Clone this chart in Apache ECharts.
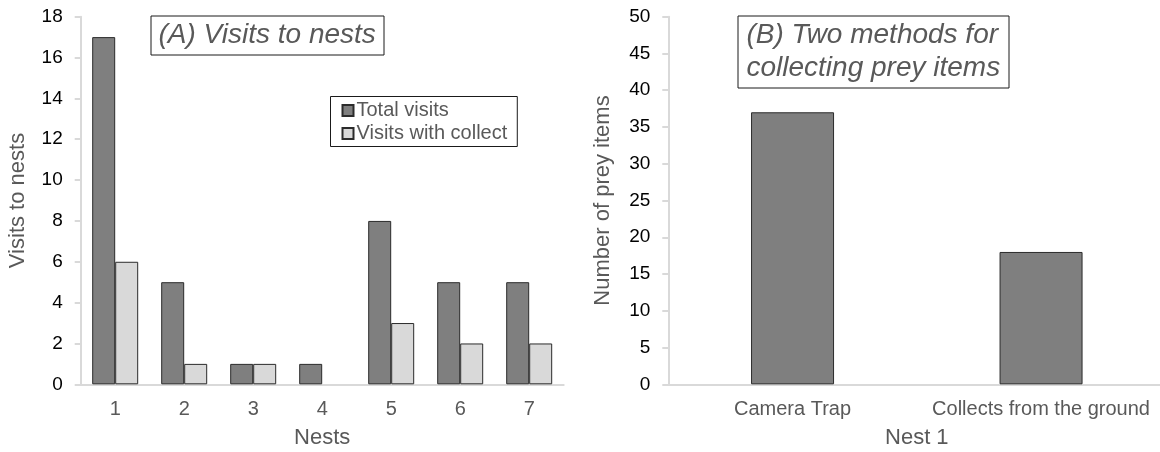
<!DOCTYPE html>
<html>
<head>
<meta charset="utf-8">
<title>Nest visits and prey collection</title>
<script src="https://cdn.jsdelivr.net/npm/echarts@6/dist/echarts.min.js"></script>
<style>
  html, body { margin: 0; padding: 0; background: #ffffff; }
  #chart { width: 1160px; height: 452px; }
</style>
</head>
<body>
<div id="chart"></div>
<script>
// Panel A: visits to each nest
const nests = ['1', '2', '3', '4', '5', '6', '7'];
const totalVisits = [17, 5, 1, 1, 8, 5, 5];
const visitsWithCollect = [6, 1, 1, 0, 3, 2, 2];

// Panel B: prey items at nest 1 by collection method
const methods = ['Camera Trap', 'Collects from the ground'];
const preyItems = [37, 18];

const FONT = '"Liberation Sans", Arial, Helvetica, sans-serif';
const GREY_TEXT = '#595959';
const AXIS_GREY = '#d9d9d9';
const DARK_FILL = '#7f7f7f';
const LIGHT_FILL = '#d9d9d9';
const OUTLINE = '#2b2b2b';

// zero-height bars get no outline so nothing shows on the baseline
const withOutline = vals => vals.map(v => v === 0 ? { value: v, itemStyle: { borderWidth: 0 } } : v);

const valueAxis = (max, interval, name, gap, idx) => ({
  type: 'value',
  gridIndex: idx,
  min: 0,
  max: max,
  interval: interval,
  name: name,
  nameLocation: 'middle',
  nameGap: gap,
  nameTextStyle: { color: GREY_TEXT, fontSize: 22, fontFamily: FONT },
  axisLine: { show: true, lineStyle: { color: AXIS_GREY, width: 2 } },
  axisTick: { show: true, inside: false, length: 6, lineStyle: { color: AXIS_GREY, width: 2 } },
  axisLabel: { color: '#000000', fontSize: 19, fontFamily: FONT, margin: 18 },
  splitLine: { show: false }
});

const categoryAxis = (cats, name, gap, idx) => ({
  type: 'category',
  gridIndex: idx,
  data: cats,
  name: name,
  nameLocation: 'middle',
  nameGap: gap,
  nameTextStyle: { color: GREY_TEXT, fontSize: 22, fontFamily: FONT },
  axisLine: { show: true, lineStyle: { color: AXIS_GREY, width: 2 } },
  axisTick: { show: false },
  axisLabel: { color: GREY_TEXT, fontSize: 20, fontFamily: FONT, margin: 15, interval: 0 },
  splitLine: { show: false }
});

const chart = echarts.init(document.getElementById('chart'), null, { renderer: 'canvas' });

chart.setOption({
  animation: false,
  backgroundColor: '#ffffff',
  title: [
    {
      text: '(A) Visits to nests',
      left: 150.5,
      top: 15.5,
      padding: [5, 8, 5, 8],
      borderWidth: 1,
      borderColor: '#1a1a1a',
      backgroundColor: '#ffffff',
      textStyle: {
        color: GREY_TEXT, fontSize: 28, fontStyle: 'italic', fontWeight: 'normal',
        fontFamily: FONT, lineHeight: 30
      }
    },
    {
      text: '(B) Two methods for\ncollecting prey items',
      left: 737.5,
      top: 15.5,
      padding: [3, 9, 4, 9],
      borderWidth: 1,
      borderColor: '#1a1a1a',
      backgroundColor: '#ffffff',
      textStyle: {
        color: GREY_TEXT, fontSize: 28, fontStyle: 'italic', fontWeight: 'normal',
        fontFamily: FONT, lineHeight: 33
      }
    }
  ],
  legend: {
    data: ['Total visits', 'Visits with collect'],
    orient: 'vertical',
    left: 330.5,
    top: 96.5,
    padding: [3, 10, 2, 11],
    itemGap: 1,
    itemWidth: 11,
    itemHeight: 11,
    icon: 'rect',
    borderWidth: 1,
    borderColor: '#1a1a1a',
    textStyle: { color: GREY_TEXT, fontSize: 20, fontFamily: FONT, lineHeight: 22, padding: [0, 0, 0, -2] }
  },
  grid: [
    { left: 80.7, top: 16.7, width: 483, height: 367.6, containLabel: false, outerBoundsMode: 'none' },
    { left: 668.3, top: 16.7, width: 497, height: 367.6, containLabel: false, outerBoundsMode: 'none' }
  ],
  xAxis: [
    categoryAxis(nests, 'Nests', 43, 0),
    categoryAxis(methods, 'Nest 1', 43, 1)
  ],
  yAxis: [
    valueAxis(18, 2, 'Visits to nests', 52, 0),
    valueAxis(50, 5, 'Number of prey items', 54, 1)
  ],
  series: [
    {
      name: 'Total visits',
      type: 'bar',
      xAxisIndex: 0,
      yAxisIndex: 0,
      barWidth: 23,
      barGap: '0%',
      data: withOutline(totalVisits),
      itemStyle: { color: DARK_FILL, borderColor: OUTLINE, borderWidth: 1 }
    },
    {
      name: 'Visits with collect',
      type: 'bar',
      xAxisIndex: 0,
      yAxisIndex: 0,
      barWidth: 23,
      barGap: '0%',
      data: withOutline(visitsWithCollect),
      itemStyle: { color: LIGHT_FILL, borderColor: OUTLINE, borderWidth: 1 }
    },
    {
      name: 'Prey items',
      type: 'bar',
      xAxisIndex: 1,
      yAxisIndex: 1,
      barWidth: 83,
      data: withOutline(preyItems),
      itemStyle: { color: DARK_FILL, borderColor: OUTLINE, borderWidth: 1 }
    }
  ]
});
</script>
</body>
</html>
